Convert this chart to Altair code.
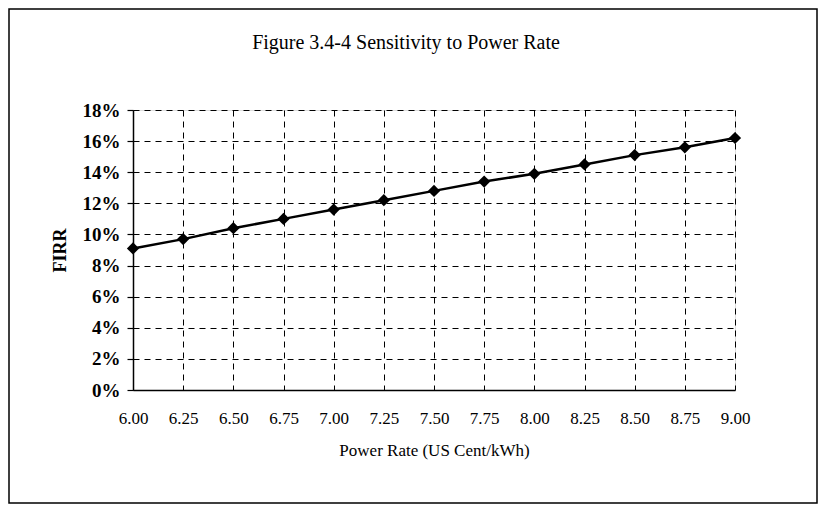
import altair as alt
import pandas as pd

power_rate = [6.00, 6.25, 6.50, 6.75, 7.00, 7.25, 7.50, 7.75, 8.00, 8.25, 8.50, 8.75, 9.00]
firr = [0.091, 0.097, 0.104, 0.110, 0.116, 0.122, 0.128, 0.134, 0.139, 0.145, 0.151, 0.156, 0.162]
y_ticks = [0, 0.02, 0.04, 0.06, 0.08, 0.10, 0.12, 0.14, 0.16, 0.18]
title_text = "Figure 3.4-4  Sensitivity to Power Rate"

df = pd.DataFrame({"rate": power_rate, "firr": firr})
FONT = "Liberation Serif"
W, H = 602, 280

x_enc = alt.X(
    "rate:Q",
    scale=alt.Scale(domain=[6, 9], nice=False, zero=False),
    axis=alt.Axis(
        values=power_rate, tickCount=len(power_rate), format=".2f",
        title="Power Rate (US Cent/kWh)",
        labelFont=FONT, labelFontSize=17, labelColor="black", labelPadding=20,
        labelFlush=False, labelOverlap=False,
        ticks=False, domainColor="black", domainWidth=1.5,
        grid=True, gridColor="black", gridDash=[6, 5], gridWidth=1, gridOpacity=1,
        titleFont=FONT, titleFontSize=17, titleFontWeight="normal", titleColor="black",
        titlePadding=16,
    ),
)
y_enc = alt.Y(
    "firr:Q",
    scale=alt.Scale(domain=[0, 0.18], nice=False),
    axis=alt.Axis(
        values=y_ticks, tickCount=len(y_ticks), format=".0%", title="FIRR",
        labelFont=FONT, labelFontSize=19, labelFontWeight="bold", labelColor="black",
        labelPadding=7, labelFlush=False, labelOverlap=False,
        tickSize=6, tickColor="black", tickWidth=1.2,
        domainColor="black", domainWidth=1.5,
        grid=True, gridColor="black", gridDash=[6, 5], gridWidth=1, gridOpacity=1,
        titleFont=FONT, titleFontSize=18, titleFontWeight="bold", titleColor="black",
        titlePadding=13,
    ),
)

base = alt.Chart(df).encode(x=x_enc, y=y_enc)
line = base.mark_line(color="black", strokeWidth=2.5)
pts = base.mark_point(shape="diamond", filled=True, color="black", size=150, opacity=1)

frame_df = pd.DataFrame({"k": [0]})
frame = alt.Chart(frame_df).mark_rect(fillOpacity=0, stroke="black", strokeWidth=1.5).encode(
    x=alt.value(-124), x2=alt.value(684), y=alt.value(-101), y2=alt.value(393)
)
title = alt.Chart(frame_df).mark_text(
    font=FONT, fontSize=20, color="black", align="center", baseline="middle"
).encode(x=alt.value(273), y=alt.value(-67), text=alt.value(title_text))

chart = alt.layer(frame, line, pts, title).properties(
    width=W, height=H, padding=0
).configure_view(stroke="black", strokeWidth=1.5).configure(background="white")

chart.save("out.html", embed_options={"renderer": "svg", "actions": False})
